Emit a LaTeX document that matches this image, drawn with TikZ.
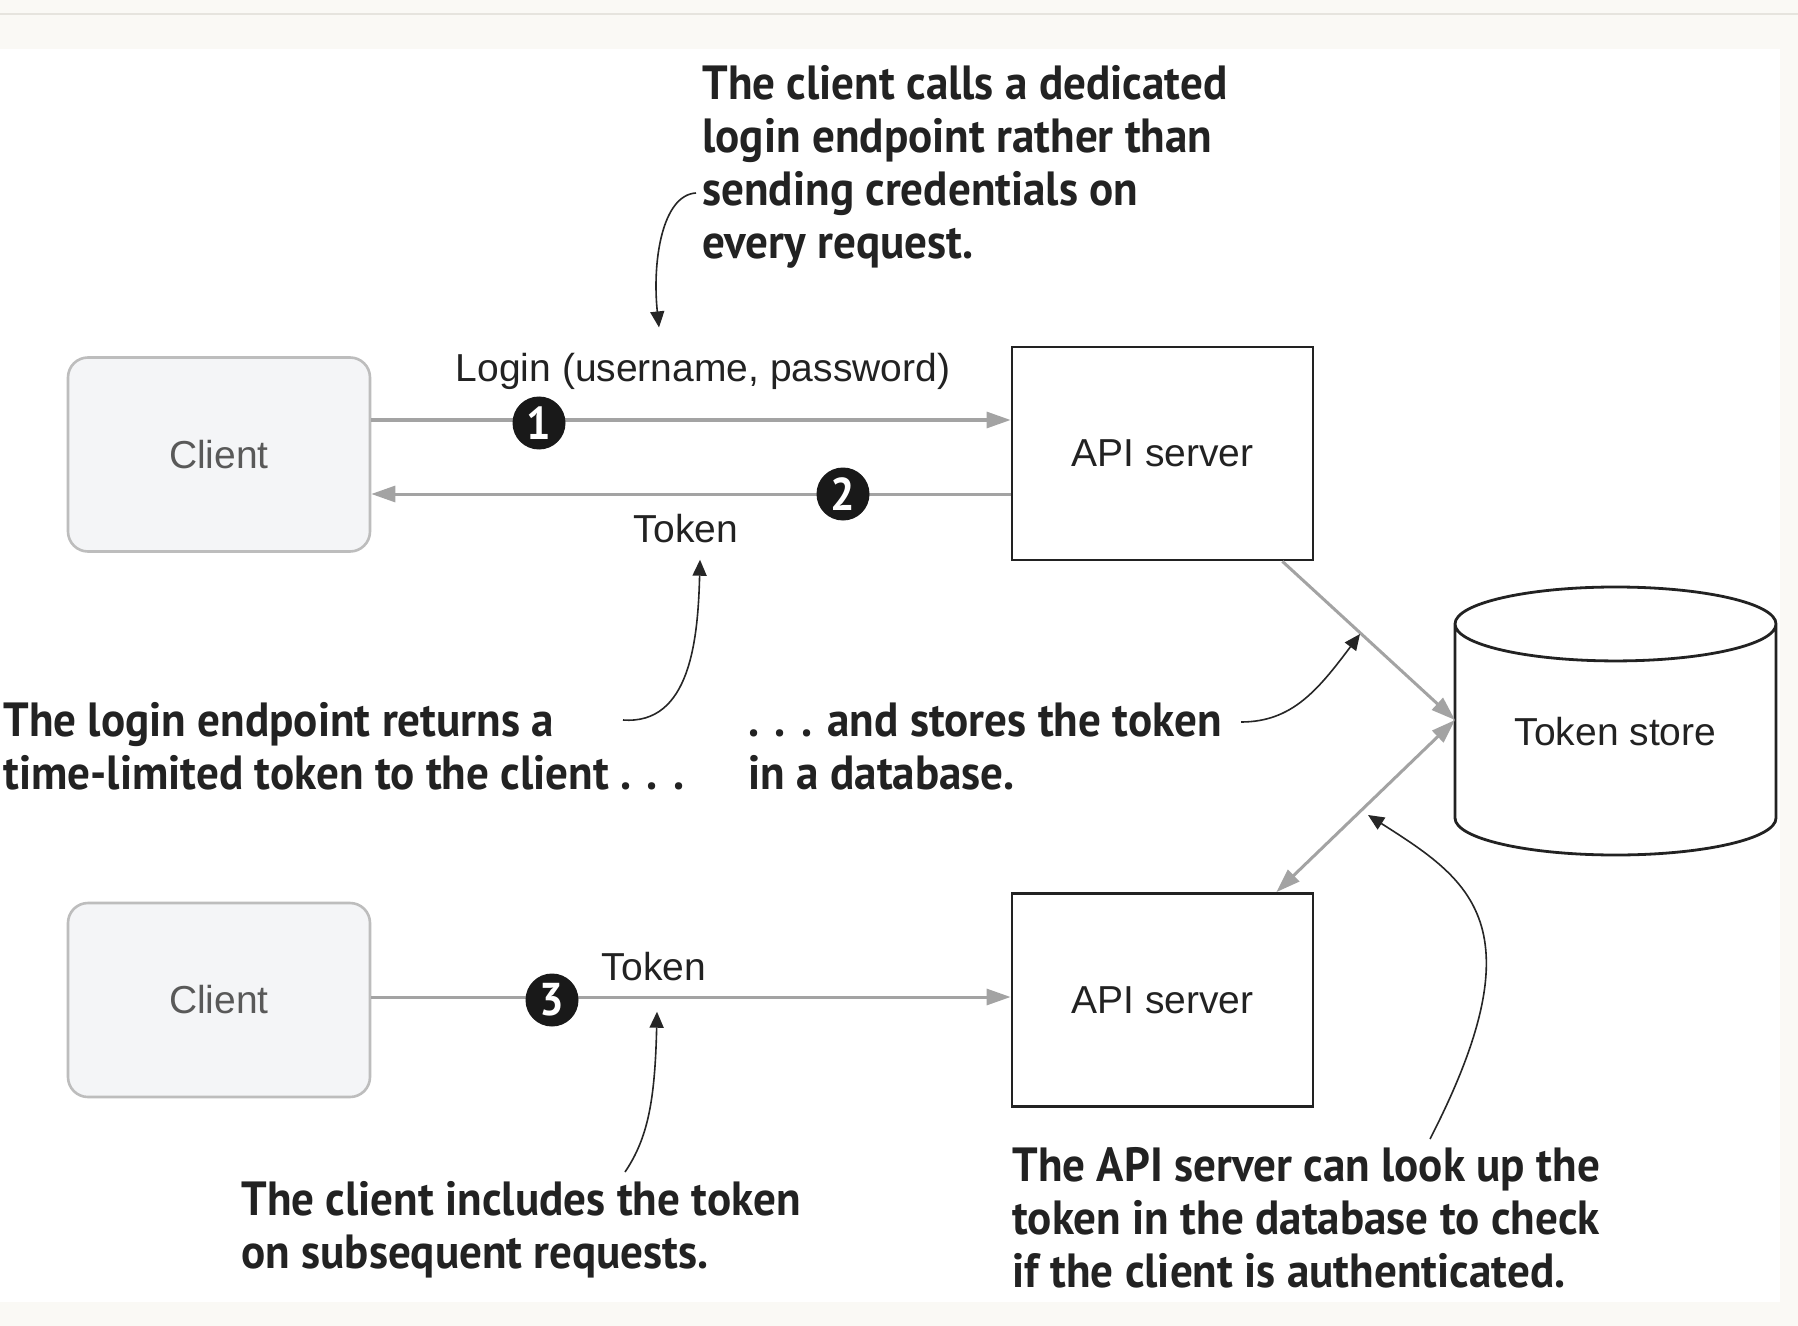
\documentclass[tikz,border=0pt]{standalone}
\usepackage{fontspec}
\setmainfont{Liberation Sans}
\newfontfamily\notefont[FakeStretch=0.94]{PT Sans}
\usetikzlibrary{shapes.geometric,arrows.meta,calc,positioning}

\definecolor{pagebg}{HTML}{FAF9F5}
\definecolor{pageline}{HTML}{E6E4DE}
\definecolor{linegray}{HTML}{A3A3A3}
\definecolor{clientfill}{HTML}{F4F5F7}
\definecolor{clientdraw}{HTML}{BDBDBD}
\definecolor{inkdark}{HTML}{222222}

\begin{document}
\begin{tikzpicture}[x=0.5pt,y=-0.5pt]
        \tikzstyle{client} = [rectangle, rounded corners=10pt, draw=clientdraw, line width=1.3pt, fill=clientfill,
                minimum width=151pt, minimum height=97pt, text=black!65, font=\fontsize{19.5}{22}\selectfont]
        \tikzstyle{server} = [rectangle, draw=inkdark, line width=1.4pt, fill=white,
                minimum width=150.5pt, minimum height=106.5pt, text=inkdark, font=\fontsize{19.5}{22}\selectfont]
        \tikzstyle{store} = [cylinder, shape border rotate=90, draw=inkdark, line width=1.4pt, aspect=0.344,
                minimum width=160.5pt, minimum height=134pt, font=\fontsize{19.5}{22}\selectfont]
        \tikzstyle{msg} = [inner sep=0pt, text=inkdark, font=\fontsize{19.5}{22}\selectfont]
        \tikzstyle{note} = [inner sep=0pt, anchor=north west, align=left, text=inkdark,
                font=\notefont\bfseries\fontsize{24}{26.5}\selectfont]
        \tikzstyle{badge} = [circle, fill=black!90, text=white, minimum size=26.5pt, inner sep=0pt,
                font=\notefont\bfseries\fontsize{23}{23}\selectfont]
        \tikzstyle{flow} = [-{Triangle[length=12pt,width=8pt]}, draw=linegray, line width=1.5pt]
        \tikzstyle{pointer} = [-{Triangle[length=8pt,width=7pt]}, draw=black!85, line width=0.8pt]

        % page
        \useasboundingbox (0,0) rectangle (1798,1326);
        \fill[pagebg] (0,0) rectangle (1798,1326);
        \draw[pageline, line width=1.2pt] (0,14) -- (1798,14);
        \fill[white] (0,49) rectangle (1780,1302);

        % boxes
        \node[client] (client1) at (219,454.5) {Client};
        \node[server] (api1) at (1162.5,453.5) {API server};
        \node[client] (client2) at (219,1000) {Client};
        \node[server] (api2) at (1162.5,1000) {API server};
        \node[store, anchor=shape center] (store) at (1615.5,721) {\phantom{Token store}};
        \node[msg] (storetext) at ($(store.shape center)+(0,11)$) {Token store};

        % messages
        \draw[flow] ($(client1.east)+(0,-34.5)$) -- ($(api1.west)+(0,-33.5)$);
        \draw[flow] ($(api1.west)+(0,40.5)$) -- ($(client1.east)+(0,39.5)$);
        \draw[flow] ($(client2.east)+(0,-3)$) -- ($(api2.west)+(0,-3)$);

        \coordinate (meet) at ($(store.shape center)+(-160.5,-1)$);
        \draw[flow] ($(api1.south east)+(-32,0)$) -- (meet);
        \draw[flow, {Triangle[length=12pt,width=8pt]}-{Triangle[length=12pt,width=8pt]}] ($(api2.north east)+(-38,0)$) -- (meet);

        \node[badge] (b1) at (539,423) {1};
        \node[badge] (b2) at (843,494) {2};
        \node[badge] (b3) at (552,1000) {3};

        \node[msg] (login) at (703,371) {Login (username, password)};
        \node[msg] (tok1) at (686,529) {Token};
        \node[msg] (tok3) at (654,967) {Token};

        % notes
        \node[note] (n1) at (702,65) {The client calls a dedicated\\login endpoint rather than\\sending credentials on\\every request.};
        \node[note] (n2) at (3,702) {The login endpoint returns a\\time-limited token to the client . . .};
        \node[note] (n3) at (748,702) {. . . and stores the token\\in a database.};
        \node[note] (n4) at (241,1181) {The client includes the token\\on subsequent requests.};
        \node[note] (n5) at (1012,1147) {The API server can look up the\\token in the database to check\\if the client is authenticated.};

        \coordinate (p1) at (696,193);
        \coordinate (p2) at (623,720);
        \coordinate (p3) at (1241,722);
        \coordinate (p4) at (625,1172);
        \coordinate (p5) at (1430,1139);

        \draw[pointer] (p1) .. controls (662,195) and (652,262) .. ($(login.north)+(-44,-25)$);
        \draw[pointer] (p2) .. controls (690,725) and (698,640) .. ($(tok1.south)+(14,16)$);
        \draw[pointer] (p3) .. controls (1292,722) and (1318,690) .. (1360,634);
        \draw[pointer] (p4) .. controls (648,1138) and (655,1100) .. ($(tok3.south)+(3,30)$);
        \draw[pointer] (p5) .. controls (1540,925) and (1470,880) .. (1368,815);
\end{tikzpicture}
\end{document}
